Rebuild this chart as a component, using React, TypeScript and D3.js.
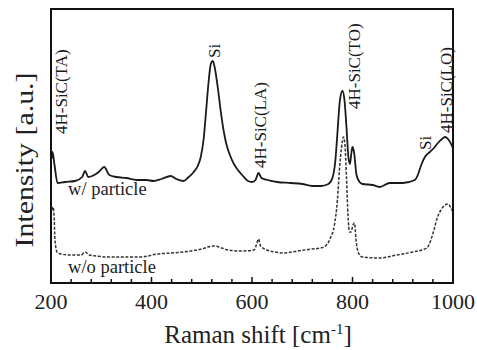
import React, { useRef, useEffect } from 'react';
import * as d3 from 'd3';

// Raman shift [cm-1] and intensity (a.u.)
const withShift = [201, 203, 207, 213, 228, 248, 262, 268, 274, 282, 295, 306, 316, 330, 350, 370, 390, 404, 420, 438, 450, 464, 474, 484, 492, 498, 504, 508, 514, 518, 522, 526, 532, 538, 544, 550, 556, 564, 572, 582, 592, 600, 607, 613, 619, 631, 650, 677, 700, 720, 737, 752, 760, 766, 770, 775, 780, 784, 788, 792, 795, 798, 800, 803, 808, 814, 820, 840, 854, 874, 900, 924, 930, 936, 944, 954, 962, 970, 978, 984, 990, 1000];
const withValues = [124, 131, 118, 100, 101, 102, 106, 112, 106, 107, 111, 116, 108, 106, 105, 103, 103, 102, 104, 107, 104, 102, 106, 111, 117, 126, 145, 168, 203, 219, 222, 215, 195, 171, 151, 137, 128, 119, 113, 107, 102, 101, 103, 110, 105, 103, 101, 100, 99, 97, 97, 99, 105, 123, 150, 183, 192, 183, 156, 125, 119, 131, 136, 131, 108, 101, 99, 98, 96, 100, 100, 103, 108, 117, 126, 131, 135, 140, 144, 146, 144, 135];

const withoutShift = [202, 204, 206, 208, 212, 220, 240, 260, 268, 276, 290, 312, 340, 378, 412, 440, 478, 500, 524, 540, 552, 580, 604, 610, 613, 617, 630, 645, 664, 690, 720, 737, 750, 756, 764, 770, 774, 778, 782, 785, 788, 791, 794, 797, 801, 804, 807, 812, 820, 854, 888, 920, 948, 956, 962, 970, 976, 984, 990, 995, 1000];
const withoutValues = [73, 76, 68, 43, 31, 29, 28, 28, 31, 28, 27, 26, 26, 26, 29, 30, 32, 34, 37, 35, 33, 32, 33, 40, 44, 37, 33, 31, 30, 32, 34, 35, 39, 45, 58, 83, 113, 135, 146, 138, 106, 68, 51, 51, 58, 60, 43, 30, 26, 25, 28, 31, 35, 43, 53, 67, 73, 78, 79, 76, 71];

const xTicks = [200, 400, 600, 800, 1000];
const minorTicks = d3.range(200, 1001, 40);

const peakLabels = [
  { text: '4H-SiC(TA)', shift: 234, value: 149 },
  { text: 'Si', shift: 538, value: 225 },
  { text: '4H-SiC(LA)', shift: 630, value: 115 },
  { text: '4H-SiC(TO)', shift: 816, value: 174 },
  { text: 'Si', shift: 958, value: 133 },
  { text: '4H-SiC(LO)', shift: 1000, value: 150 },
];

const W = 477;
const H = 350;

export default function App() {
  const svgRef = useRef<SVGSVGElement>(null);

  useEffect(() => {
    const margin = { top: 9, right: 24, bottom: 67, left: 51 };
    const innerWidth = W - margin.left - margin.right;
    const innerHeight = H - margin.top - margin.bottom;
    const font = "'Liberation Serif', 'Times New Roman', serif";

    const root = d3.select(svgRef.current);
    root.selectAll('*').remove();
    const svg = root.append('g').attr('transform', `translate(${margin.left},${margin.top})`);

    const x = d3.scaleLinear().domain([200, 1000]).range([0, innerWidth]);
    const y = d3.scaleLinear().domain([0, 274]).range([innerHeight, 0]);

    const line = d3.line<[number, number]>()
      .x(d => x(d[0]))
      .y(d => y(d[1]))
      .curve(d3.curveMonotoneX);

    // w/o particle (dashed)
    svg.append('path')
      .datum(withoutShift.map((s, i) => [s, withoutValues[i]] as [number, number]))
      .attr('fill', 'none')
      .attr('stroke', '#333')
      .attr('stroke-width', 1.5)
      .attr('stroke-dasharray', '3,1.6')
      .attr('d', line);

    // w/ particle (solid)
    svg.append('path')
      .datum(withShift.map((s, i) => [s, withValues[i]] as [number, number]))
      .attr('fill', 'none')
      .attr('stroke', '#1a1a1a')
      .attr('stroke-width', 1.8)
      .attr('d', line);

    // frame
    svg.append('rect')
      .attr('width', innerWidth)
      .attr('height', innerHeight)
      .attr('fill', 'none')
      .attr('stroke', '#111')
      .attr('stroke-width', 2);

    // inward ticks on bottom
    svg.append('g')
      .selectAll('line')
      .data(minorTicks)
      .join('line')
      .attr('x1', d => x(d))
      .attr('x2', d => x(d))
      .attr('y1', innerHeight)
      .attr('y2', d => innerHeight - (d % 200 === 0 ? 6 : 4))
      .attr('stroke', '#111')
      .attr('stroke-width', 1.5);

    svg.append('g')
      .selectAll('text')
      .data(xTicks)
      .join('text')
      .attr('x', d => x(d))
      .attr('y', innerHeight + 26)
      .attr('text-anchor', 'middle')
      .style('font-family', font)
      .style('font-size', '22px')
      .attr('fill', '#222')
      .text(d => d);

    // X axis label
    const xl = svg.append('text')
      .attr('x', innerWidth / 2 + 6)
      .attr('y', innerHeight + 60)
      .attr('text-anchor', 'middle')
      .style('font-family', font)
      .style('font-size', '25px')
      .attr('fill', '#222');
    xl.append('tspan').text('Raman shift [cm');
    xl.append('tspan').attr('dy', -9).style('font-size', '15px').text('-1');
    xl.append('tspan').attr('dy', 9).text(']');

    // Y axis label
    svg.append('text')
      .attr('transform', `translate(${-18},${151}) rotate(-90)`)
      .attr('text-anchor', 'middle')
      .style('font-family', font)
      .style('font-size', '25px')
      .attr('textLength', 175)
      .attr('lengthAdjust', 'spacingAndGlyphs')
      .attr('fill', '#222')
      .text('Intensity [a.u.]');

    // peak labels
    peakLabels.forEach(p => {
      svg.append('text')
        .attr('transform', `translate(${x(p.shift) - 1},${y(p.value)}) rotate(-90)`)
        .style('font-family', font)
        .style('font-size', '17px')
        .attr('fill', '#1a1a1a')
        .text(p.text);
    });

    // series labels
    svg.append('text')
      .attr('x', x(234))
      .attr('y', y(88))
      .style('font-family', font)
      .style('font-size', '18.5px')
      .attr('fill', '#222')
      .text('w/ particle');

    svg.append('text')
      .attr('x', x(234))
      .attr('y', y(10))
      .style('font-family', font)
      .style('font-size', '18.5px')
      .attr('fill', '#222')
      .text('w/o particle');
  }, []);

  return (
    <svg ref={svgRef} width={W} height={H}
      style={{ position: 'absolute', left: 0, top: 0, background: '#fff' }} />
  );
}
